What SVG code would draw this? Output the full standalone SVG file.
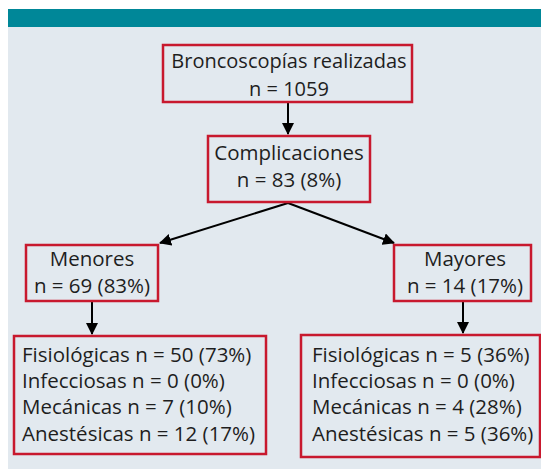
<svg xmlns="http://www.w3.org/2000/svg" width="541" height="470" viewBox="0 0 541 470">
<defs>
<style>
.box{fill:#e2e9ef;stroke:#c8192e;stroke-width:2.5}
.t{font-family:"Open Sans","Liberation Sans",sans-serif;font-size:20.5px;fill:#1e1e1e}
.r{font-size:20px}
.c{text-anchor:middle}
.ln{stroke:#000;stroke-width:2;fill:none}
</style>
<marker id="ah" viewBox="0 0 12 12" refX="11" refY="6" markerWidth="12" markerHeight="12" markerUnits="userSpaceOnUse" orient="auto"><path d="M0,0 L12,6 L0,12 z" fill="#000"/></marker>
</defs>
<rect x="0" y="0" width="541" height="470" fill="#fff"/>
<rect x="8" y="27" width="533" height="442" fill="#e2e9ef"/>
<rect x="8" y="9" width="533" height="18" fill="#008798"/>
<g id="connectors">
<line class="ln" x1="288" y1="102" x2="288" y2="134" marker-end="url(#ah)"/>
<line class="ln" x1="288" y1="203" x2="160" y2="243" marker-end="url(#ah)"/>
<line class="ln" x1="288" y1="203" x2="394" y2="243" marker-end="url(#ah)"/>
<line class="ln" x1="92" y1="301" x2="92" y2="334" marker-end="url(#ah)"/>
<line class="ln" x1="463" y1="301" x2="463" y2="333" marker-end="url(#ah)"/>
</g>
<g id="root">
<rect class="box" x="163" y="45" width="249" height="57"/>
<text class="t r c" x="289" y="68">Broncoscopías realizadas</text>
<text class="t r c" x="289" y="96">n = 1059</text>
</g>
<g id="complicaciones">
<rect class="box" x="208" y="136" width="162" height="66"/>
<text class="t c" x="289" y="160">Complicaciones</text>
<text class="t c" x="289" y="187">n = 83 (8%)</text>
</g>
<g id="menores">
<rect class="box" x="26" y="245" width="132" height="56"/>
<text class="t c" x="92" y="266">Menores</text>
<text class="t c" x="92" y="293">n = 69 (83%)</text>
</g>
<g id="mayores">
<rect class="box" x="394" y="245" width="137" height="56"/>
<text class="t c" x="465" y="266">Mayores</text>
<text class="t c" x="465" y="293">n = 14 (17%)</text>
</g>
<g id="menores-detalle">
<rect class="box" x="14" y="336" width="252" height="118"/>
<text class="t" x="22" y="362">Fisiológicas n = 50 (73%)</text>
<text class="t" x="22" y="388">Infecciosas n = 0 (0%)</text>
<text class="t" x="22" y="414">Mecánicas n = 7 (10%)</text>
<text class="t" x="22" y="441">Anestésicas n = 12 (17%)</text>
</g>
<g id="mayores-detalle">
<rect class="box" x="301" y="335" width="239" height="122"/>
<text class="t" x="312" y="362">Fisiológicas n = 5 (36%)</text>
<text class="t" x="312" y="388">Infecciosas n = 0 (0%)</text>
<text class="t" x="312" y="414">Mecánicas n = 4 (28%)</text>
<text class="t" x="312" y="441">Anestésicas n = 5 (36%)</text>
</g>
</svg>
